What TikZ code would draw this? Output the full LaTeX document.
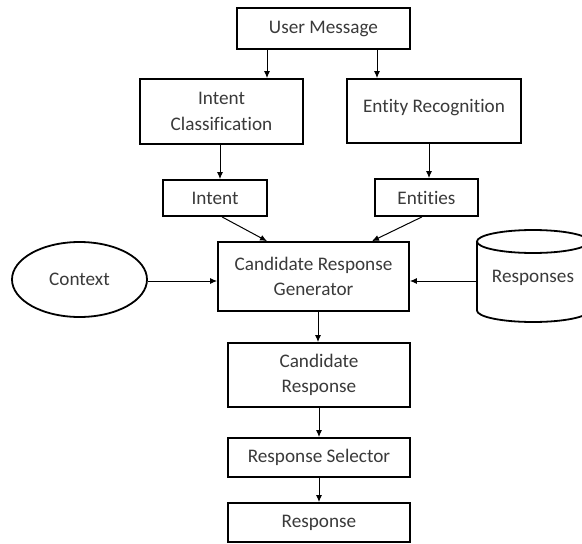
\documentclass[tikz,border=0pt]{standalone}
\usepackage{fontspec}
\setmainfont{Carlito}[Ligatures={NoCommon,NoRare}]
\usetikzlibrary{arrows.meta,shapes.geometric}
\definecolor{txt}{HTML}{3A3A3A}
\tikzset{
  box/.style={draw=black, line width=1.8pt, rectangle, text=txt, align=center, inner sep=0pt,
    font=\fontsize{19.2}{25.5}\selectfont},
  oval/.style={draw=black, line width=1.8pt, ellipse, text=txt, inner sep=0pt,
    font=\fontsize{19.2}{25.5}\selectfont},
  lbl/.style={text=txt, inner sep=0pt, font=\fontsize{19.2}{25.5}\selectfont},
  arr/.style={draw=black, line width=1pt, -{Latex[length=7pt,width=6pt]}},
}
\begin{document}
\begin{tikzpicture}[x=1pt,y=-1pt]
\useasboundingbox (0,0) rectangle (582,544);
\fill[white] (0,0) rectangle (582,544);

\node[box, minimum width=173pt, minimum height=41pt] (um) at (323.5,28.5) {User Message};
\node[box, minimum width=163pt, minimum height=65pt] (ic) at (221.5,111.5) {Intent\\Classification};
\node[box, minimum width=174pt, minimum height=64pt] (er) at (434,111) {\raisebox{10pt}{Entity Recognition}};
\node[box, minimum width=104pt, minimum height=36pt] (intent) at (215,198) {Intent};
\node[box, minimum width=103pt, minimum height=37pt] (ent) at (426.5,197.5) {Entities};
\node[box, minimum width=191pt, minimum height=69pt] (crg) at (313.5,276.5) {Candidate Response\\Generator};
\node[oval, minimum width=135pt, minimum height=75pt] (ctx) at (79.5,279.5) {Context};
\node[box, minimum width=182pt, minimum height=64pt] (cand) at (319,375) {Candidate\\Response};
\node[box, minimum width=182pt, minimum height=39pt] (sel) at (319,457.5) {Response Selector};
\node[box, minimum width=182pt, minimum height=39pt] (res) at (319,522.5) {Response};

% Responses cylinder
\draw[line width=1.8pt] (533,241.5) ellipse [x radius=56pt, y radius=11.5pt];
\draw[line width=1.8pt] (477,241.5) -- (477,310.5)
  arc[start angle=180, end angle=360, x radius=56pt, y radius=11.5pt] -- (589,241.5);
\node[lbl] (rdb) at (533,278) {Responses};
\coordinate (rdbw) at (477,281);

% connectors
\draw[arr] (267,0 |- um.south) -- (267,0 |- ic.north);
\draw[arr] (377,0 |- um.south) -- (377,0 |- er.north);
\draw[arr] (220,0 |- ic.south) -- (220,0 |- intent.north);
\draw[arr] (429,0 |- er.south) -- (429,0 |- ent.north);
\draw[arr] (222,0 |- intent.south) -- (267,0 |- crg.north);
\draw[arr] (422,0 |- ent.south) -- (372,0 |- crg.north);
\draw[arr] (ctx.east |- 0,281) -- (crg.west |- 0,281);
\draw[arr] (rdbw) -- (crg.east |- rdbw);
\draw[arr] (318,0 |- crg.south) -- (318,0 |- cand.north);
\draw[arr] (319,0 |- cand.south) -- (319,0 |- sel.north);
\draw[arr] (319,0 |- sel.south) -- (319,0 |- res.north);
\end{tikzpicture}
\end{document}
